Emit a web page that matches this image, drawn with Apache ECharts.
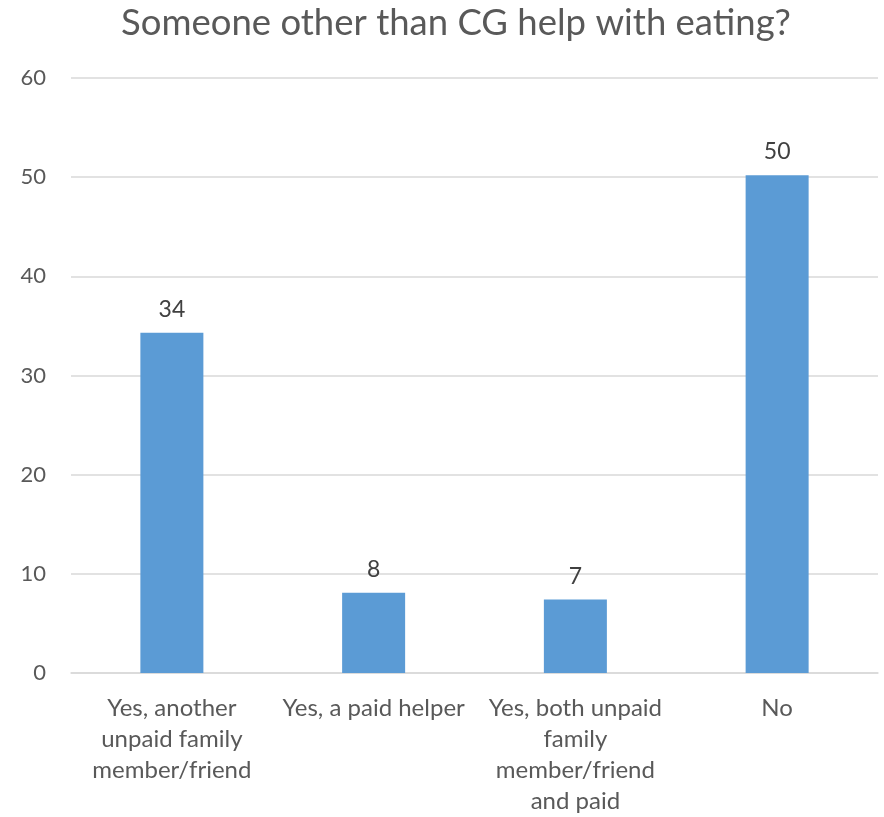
<!DOCTYPE html>
<html>
<head>
<meta charset="utf-8">
<script src="https://cdn.jsdelivr.net/npm/echarts@6/dist/echarts.min.js"></script>
<style>html,body{margin:0;padding:0;background:#fff}#c{width:884px;height:817px}</style>
</head>
<body>
<div id="c"></div>
<script>
const titleText = "Someone other than CG help with eating?";
const categories = [
  "Yes, another\nunpaid family\nmember/friend",
  "Yes, a paid helper",
  "Yes, both unpaid\nfamily\nmember/friend\nand paid",
  "No"
];
const values = [34.3, 8.1, 7.4, 50.2];
const yMin = 0, yMax = 60, yInterval = 10;

const FONT = "Lato, 'Open Sans', sans-serif";
const chart = echarts.init(document.getElementById('c'));
chart.setOption({
  animation: false,
  backgroundColor: '#ffffff',
  title: {
    text: titleText, left: 451, top: 0, textAlign: 'center',
    textStyle: { fontFamily: FONT, fontSize: 36.5, fontWeight: 'normal', color: '#595959' }
  },
  grid: { left: 71, right: 6, top: 78, bottom: 144, containLabel: false },
  xAxis: {
    type: 'category', data: categories,
    axisLine: { lineStyle: { color: '#D9D9D9', width: 1.5 } },
    axisTick: { show: false },
    axisLabel: { interval: 0, fontFamily: FONT, fontSize: 24, color: '#595959', lineHeight: 31, margin: 20 }
  },
  yAxis: {
    type: 'value', min: yMin, max: yMax, interval: yInterval,
    axisLine: { show: false }, axisTick: { show: false },
    splitLine: { lineStyle: { color: '#D9D9D9', width: 1.5 } },
    axisLabel: { fontFamily: FONT, fontSize: 22, color: '#595959', margin: 25 }
  },
  series: [{
    type: 'bar', data: values, barWidth: 63,
    itemStyle: { color: '#5B9BD5' },
    label: {
      show: true, position: 'top', distance: 12,
      fontFamily: FONT, fontSize: 23, color: '#404040',
      formatter: p => Math.round(p.value)
    }
  }]
});
</script>
</body>
</html>
